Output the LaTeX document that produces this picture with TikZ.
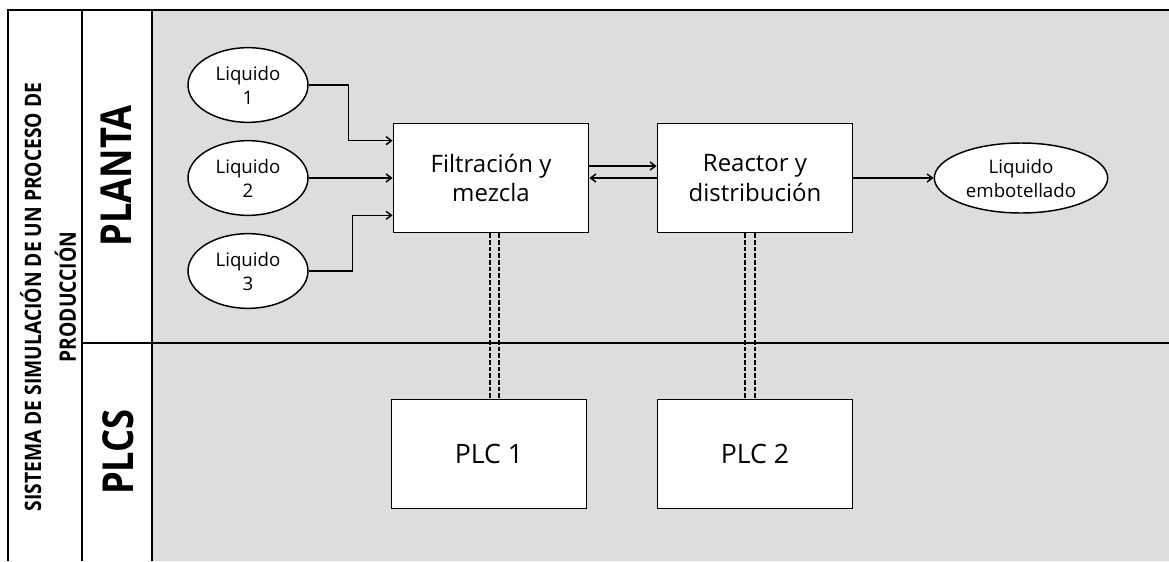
\documentclass[tikz,border=0pt]{standalone}
\usepackage{fontspec}
\setmainfont{Open Sans}
\newfontfamily\headfont[FakeStretch=0.85]{Open Sans}
\usetikzlibrary{shapes.geometric,arrows.meta}
\definecolor{laneGray}{RGB}{221,221,221}
\begin{document}
\begin{tikzpicture}[x=0.75pt,y=-0.75pt,
    lane/.style={line width=1.2pt},
    liquid/.style={draw,ellipse,fill=white,line width=1.1pt,inner sep=0pt,minimum width=90pt,minimum height=56pt,align=center,font=\fontsize{14}{18}\selectfont},
    block/.style={draw,rectangle,fill=white,line width=1.1pt,minimum width=146.5pt,minimum height=82pt,align=center,font=\fontsize{18}{22}\selectfont},
    plcbox/.style={block,font=\fontsize{20}{24}\selectfont},
    flow/.style={line width=1.1pt,-{Straight Barb[length=4pt,width=6pt]}},
    plclink/.style={line width=1.1pt,dash pattern=on 3.5pt off 1.5pt},
    lanetitle/.style={rotate=90,font=\headfont\bfseries\fontsize{32}{36}\selectfont}]
            \useasboundingbox (0,0) rectangle (1169,561);
            \fill[laneGray] (152,10) rectangle (1169,561);
            \draw[lane] (8,561) -- (8,10) -- (1169,10);
            \draw[lane] (82,10) -- (82,561);
            \draw[lane] (152,10) -- (152,561);
            \draw[lane] (82,343) -- (1169,343);
            \node[rotate=90,align=center,font=\headfont\bfseries\fontsize{17}{26}\selectfont] (title) at (48,297) {SISTEMA DE SIMULACIÓN DE UN PROCESO DE\\PRODUCCIÓN};
            \node[lanetitle] (planta) at (116,176) {PLANTA};
            \node[lanetitle] (plcs) at (118,452) {PLCS};

            \node[liquid] (liq1) at (248,85) {Liquido\\1};
            \node[liquid] (liq2) at (248,178) {Liquido\\2};
            \node[liquid] (liq3) at (248,271) {Liquido\\3};
            \node[block] (filt) at (491,178) {Filtración y\\mezcla};
            \node[block] (reac) at (755,178) {Reactor y\\distribución};
            \node[liquid,minimum width=130pt,minimum height=52.5pt] (bottled) at (1021,178) {Liquido\\embotellado};
            \node[plcbox] (plc1) at (489,454) {PLC 1};
            \node[plcbox] (plc2) at (755,454) {PLC 2};

            \draw[flow] (liq1.east) -- ++(40,0) |- ([yshift=28pt]filt.west);
            \draw[flow] (liq2.east) -- (filt.west);
            \draw[flow] (liq3.east) -- ++(44,0) |- ([yshift=-28pt]filt.west);
            \draw[flow] ([yshift=9pt]filt.east) -- ([yshift=9pt]reac.west);
            \draw[flow] (reac.west) -- (filt.east);
            \draw[flow] (reac.east) -- (bottled.west);
            \draw[plclink] ([xshift=-0.75pt]filt.south) -- ([xshift=-0.75pt]filt.south |- plc1.north);
            \draw[plclink] ([xshift=6pt]filt.south) -- ([xshift=6pt]filt.south |- plc1.north);
            \draw[plclink] ([xshift=-7.5pt]reac.south) -- ([xshift=-7.5pt]reac.south |- plc2.north);
            \draw[plclink] (reac.south) -- (reac.south |- plc2.north);
\end{tikzpicture}
\end{document}
